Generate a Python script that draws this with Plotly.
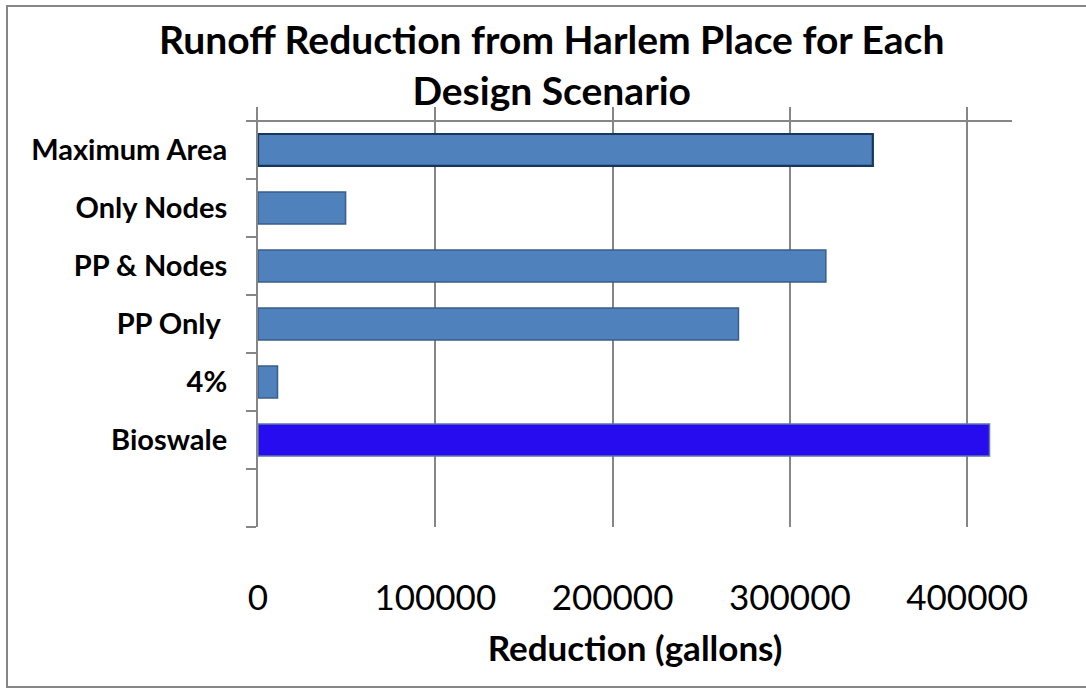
import plotly.graph_objects as go

# Scenario data (top to bottom); the last slot is an empty category
scenarios = ["Maximum Area", "Only Nodes", "PP & Nodes", "PP Only\u00a0", "4%", "Bioswale", ""]
reduction_gallons = [346800, 49400, 320300, 271000, 11000, 412600, None]
x_ticks = [0, 100000, 200000, 300000, 400000]
x_tick_labels = ["0", "100000", "200000", "300000", "400000"]

W, H = 1086, 689
ML, MR, MT, MB = 258, 74, 107, 162
PLOT_W = W - ML - MR
PLOT_H = H - MT - MB

GRID = "#868686"
FONT = "Lato, 'Open Sans', sans-serif"

n = len(scenarios)
ypos = [n - 1 - i for i in range(n)]

fill = ["#4F81BD"] * n
edge = ["#385D8A"] * n
edge_w = [1.5] * n
fill[0], edge[0], edge_w[0] = "#4F81BD", "#17375E", 2.2
fill[5], edge[5], edge_w[5] = "#270CEF", "#5B78A6", 1.5

fig = go.Figure()
fig.add_trace(go.Bar(
    x=reduction_gallons,
    y=ypos,
    orientation="h",
    width=0.55,
    marker=dict(color=fill, line=dict(color=edge, width=edge_w)),
    hoverinfo="skip",
))


def px_x(px):
    return (px - ML) / PLOT_W


def px_y(py):
    return (H - MB - py) / PLOT_H


shapes = [
    # top rule above the first category
    dict(type="line", xref="paper", yref="y", x0=px_x(258), x1=1, y0=n - 0.5, y1=n - 0.5,
         line=dict(color=GRID, width=2)),
    # chart frame
    dict(type="line", xref="paper", yref="paper", x0=px_x(7), x1=px_x(7), y0=px_y(687), y1=px_y(6),
         line=dict(color=GRID, width=2)),
    dict(type="line", xref="paper", yref="paper", x0=px_x(6), x1=px_x(1100), y0=px_y(6), y1=px_y(6),
         line=dict(color=GRID, width=2)),
    dict(type="line", xref="paper", yref="paper", x0=px_x(6), x1=px_x(1100), y0=px_y(687), y1=px_y(687),
         line=dict(color=GRID, width=2)),
]

fig.update_layout(
    width=W,
    height=H,
    margin=dict(l=ML, r=MR, t=MT, b=MB, pad=0),
    paper_bgcolor="white",
    plot_bgcolor="white",
    showlegend=False,
    font=dict(family=FONT, color="black"),
    shapes=shapes,
    annotations=[
        dict(text="<b>Runoff Reduction from Harlem Place for Each<br>Design Scenario</b>",
             xref="paper", yref="paper", x=px_x(551), y=px_y(65), xanchor="center", yanchor="middle",
             showarrow=False, font=dict(size=39, family=FONT, color="black")),
    ],
    xaxis=dict(
        range=[0, 425300],
        tickvals=x_ticks,
        ticktext=x_tick_labels,
        showgrid=True,
        gridcolor=GRID,
        gridwidth=2,
        zeroline=False,
        showline=False,
        ticks="",
        ticklabelstandoff=47,
        tickfont=dict(size=35, family=FONT, color="black"),
        title=dict(text="<b>Reduction (gallons)</b>", font=dict(size=35, family=FONT, color="black"),
                   standoff=20),
    ),
    yaxis=dict(
        range=[-0.5, n - 0.26],
        tickvals=ypos,
        ticktext=[f"<b>{s}</b>" if s else "" for s in scenarios],
        ticks="",
        showgrid=False,
        zeroline=False,
        showline=True,
        linecolor=GRID,
        linewidth=2,
        ticklabelstandoff=23,
        tickfont=dict(size=29, family=FONT, color="black"),
        minor=dict(tickvals=[k - 0.5 for k in range(n + 1)], ticks="outside", ticklen=10,
                   tickcolor=GRID, tickwidth=2, showgrid=False),
    ),
)

fig.write_html("out.html")
